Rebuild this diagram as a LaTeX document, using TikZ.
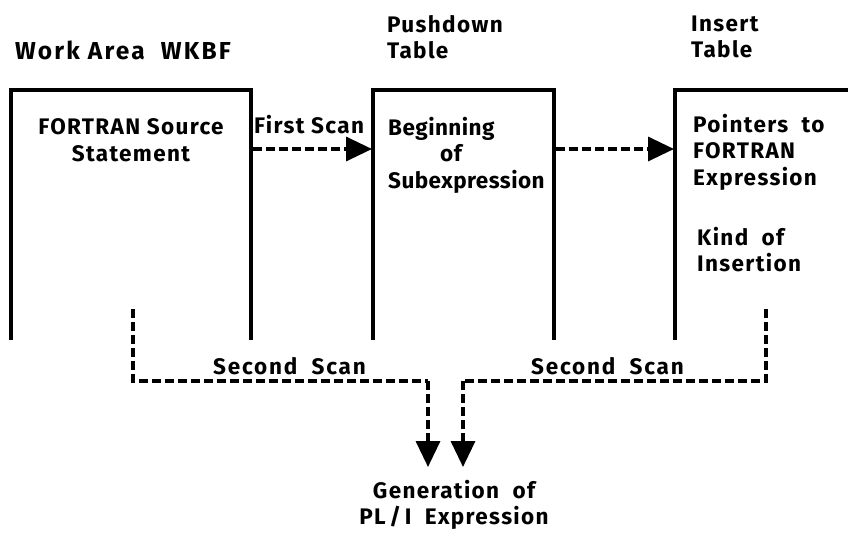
\documentclass[tikz,border=0pt]{standalone}
\usepackage{fontspec}
\setmainfont{Fira Sans}[LetterSpace=6]
\usetikzlibrary{arrows.meta,calc}
\begin{document}
\begin{tikzpicture}[x=1pt,y=-1pt,
  lbl/.style={font=\bfseries\fontsize{22.5}{26.5}\selectfont, inner sep=0pt, align=left},
  box/.style={draw=none, inner sep=0pt, minimum height=250pt, anchor=north west},
  side/.style={line width=4pt, line cap=butt},
  dasharrow/.style={line width=3.5pt, dash pattern=on 9pt off 4pt, -{Triangle[length=26pt,width=24pt]}},
  dashline/.style={line width=3.5pt, dash pattern=on 9pt off 4pt}]
\useasboundingbox (0,0) rectangle (848,541);
% boxes
\node[box, minimum width=240pt] (b1) at (11,90) {};
\node[box, minimum width=181pt] (b2) at (373,90) {};
\node[box, minimum width=190pt] (b3) at (675,90) {};
\draw[side] (b1.south west) |- (b1.north east) -- (b1.south east);
\draw[side] (b2.south west) |- (b2.north east) -- (b2.south east);
\draw[side] (b3.south west) |- (b3.north east) -- (b3.south east);
% titles
\node[lbl, anchor=west, font=\bfseries\fontsize{24.5}{28}\selectfont\addfontfeature{LetterSpace=9}] (t1) at (15,50) {Work Area \ WKBF};
\node[lbl, anchor=west] (t2) at (387,37) {Pushdown\\Table};
\node[lbl, anchor=west] (t3) at (691,37) {Insert\\Table};
% contents
\node[lbl, align=center] (c1) at (131,140) {FORTRAN Source\\Statement};
\node[lbl, anchor=north west, font=\bfseries\fontsize{22.5}{26.5}\selectfont\addfontfeature{LetterSpace=2}] (c2) at (388,117) {Beginning\\\hspace*{52pt}of\\Subexpression};
\node[lbl, anchor=north west] (c3) at (693,114) {Pointers \ to\\FORTRAN\\Expression};
\node[lbl, anchor=north west] (c4) at (697,227) {Kind \ of\\Insertion};
\node[lbl, anchor=west] (fs) at (254,125) {First Scan};
% first-scan arrows
\draw[dasharrow] ($(b1.north east)+(2,59)$) -- ($(b2.north west)+(-1,59)$);
\draw[dasharrow] ($(b2.north east)+(2,59)$) -- ($(b3.north west)+(-1,59)$);
% output
\node[lbl, align=center, anchor=north] (g) at (454,480) {Generation \ of\\PL\,/\,I \ Expression};
\coordinate (l0) at (133,309);
\coordinate (r0) at (766,309);
\draw[dashline] (l0) |- (428,381);
\draw[dasharrow] (428,381) -- ($(g.north)+(-26,-13)$);
\draw[dashline] (r0) |- (463,381);
\draw[dasharrow] (463,381) -- ($(g.north)+(9,-13)$);
\node[lbl, anchor=west, font=\bfseries\fontsize{22.5}{26.5}\selectfont\addfontfeature{LetterSpace=8}] (s1) at (213,366) {Second \ Scan};
\node[lbl, anchor=west, font=\bfseries\fontsize{22.5}{26.5}\selectfont\addfontfeature{LetterSpace=8}] (s2) at (531,366) {Second \ Scan};
\end{tikzpicture}
\end{document}
